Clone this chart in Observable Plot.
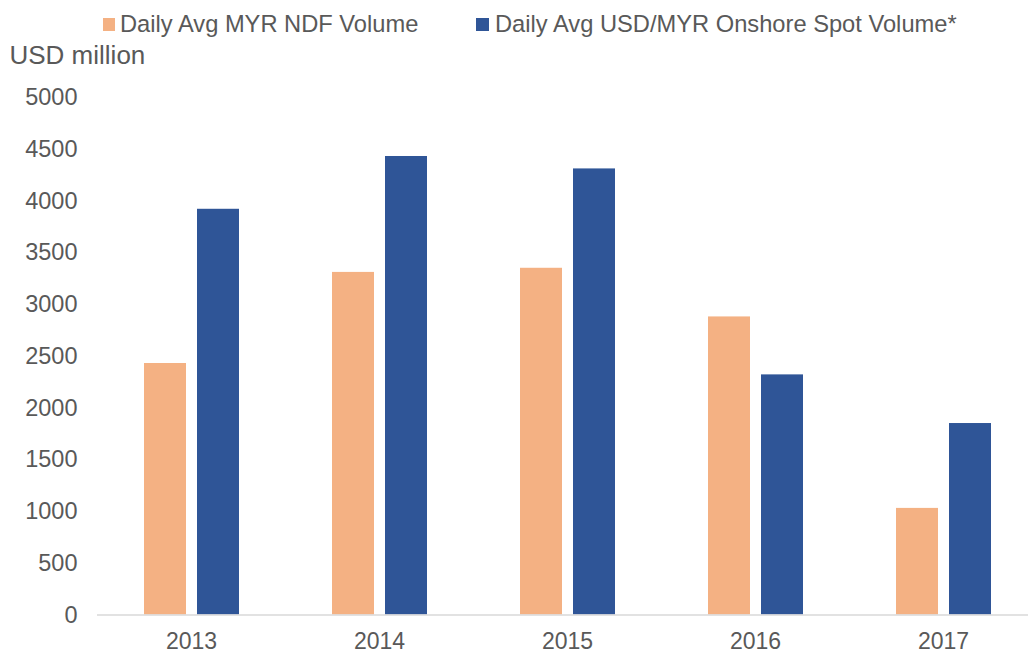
<!DOCTYPE html>
<html><head><meta charset="utf-8">
<script src="https://cdn.jsdelivr.net/npm/d3@7"></script>
<script src="https://cdn.jsdelivr.net/npm/@observablehq/plot@0.6"></script>
<style>
html,body{margin:0;padding:0;background:#fff;overflow:hidden;width:1028px;height:654px}
#wrap{position:relative;width:1028px;height:654px;overflow:hidden;font-family:"Liberation Sans",Arial,sans-serif;color:#595959}
#chart{position:absolute;left:0;top:0;width:1040px;height:654px}
#chart svg{max-width:none !important;width:1040px;height:654px}
.sw{position:absolute;width:12.5px;height:12.5px}
.lt{position:absolute;font-size:23.7px;line-height:24px;white-space:nowrap}
#ytitle{position:absolute;left:9.5px;top:42.3px;font-size:26px;line-height:26px;white-space:nowrap}
</style>
</head><body>
<div id="wrap">
  <div id="chart"></div>
  <div class="sw" style="left:102.7px;top:18.3px;background:#F4B183"></div>
  <div class="lt" style="left:120px;top:12px">Daily Avg MYR NDF Volume</div>
  <div class="sw" style="left:476px;top:18.3px;background:#2F5597"></div>
  <div class="lt" style="left:495px;top:12px">Daily Avg USD/MYR Onshore Spot Volume*</div>
  <div id="ytitle">USD million</div>
</div>
<script>
const years = ["2013","2014","2015","2016","2017"];
const seriesNames = ["Daily Avg MYR NDF Volume","Daily Avg USD/MYR Onshore Spot Volume*"];
const ndfVolume = [2430, 3310, 3350, 2880, 1030];
const spotVolume = [3920, 4430, 4310, 2320, 1850];
const seriesColors = ["#F4B183","#2F5597"];
const yTicks = [0,500,1000,1500,2000,2500,3000,3500,4000,4500,5000];

const data = [];
years.forEach((y,i)=>{
  data.push({year:y, series:seriesNames[0], value:ndfVolume[i]});
  data.push({year:y, series:seriesNames[1], value:spotVolume[i]});
});

const chart = Plot.plot({
  width: 1040,
  height: 654,
  marginLeft: 97,
  marginRight: 3,
  marginTop: 97,
  marginBottom: 39.5,
  style: {fontFamily: '"Liberation Sans", Arial, sans-serif', fontSize: "23.5px", color: "#595959", background: "transparent"},
  fx: {domain: years, padding: 0, axis: null},
  x: {domain: seriesNames, axis: null, paddingInner: 0.213, paddingOuter: 0.857},
  y: {domain: [0, 5000], ticks: yTicks, tickSize: 0, tickPadding: 20, label: null, tickFormat: d => String(d)},
  color: {domain: seriesNames, range: seriesColors},
  marks: [
    Plot.barY(data, {fx: "year", x: "series", y: "value", fill: "series"}),
    Plot.ruleY([0], {stroke: "#d9d9d9", strokeWidth: 1.5}),
    Plot.text(years, {fx: d => d, text: d => d, frameAnchor: "bottom", lineAnchor: "middle", dy: 27, fontSize: 23, fill: "#595959"})
  ]
});
document.getElementById("chart").appendChild(chart);
</script>
</body></html>
